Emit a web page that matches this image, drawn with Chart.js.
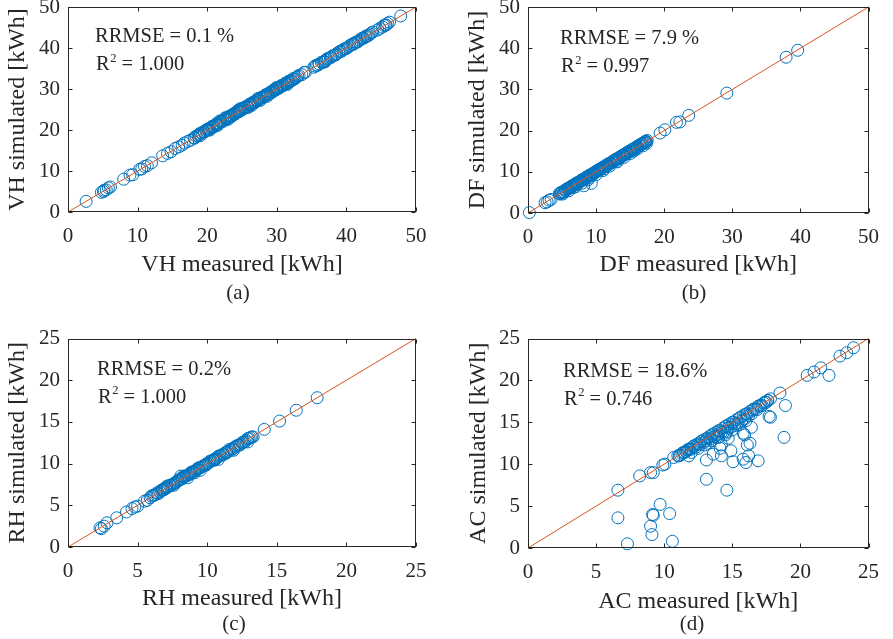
<!DOCTYPE html>
<html><head><meta charset="utf-8">
<script src="https://cdn.jsdelivr.net/npm/chart.js@4.4.1/dist/chart.umd.min.js"></script>
<style>
html,body{margin:0;padding:0;background:#fff;width:893px;height:639px;overflow:hidden;position:relative}
canvas{position:absolute}
</style></head><body>
<canvas id="ca"></canvas><canvas id="cb"></canvas><canvas id="cc"></canvas><canvas id="cd"></canvas>
<script>
const FONT = '"Liberation Serif", "Times New Roman", Times, serif';

// ---------- (a) VH ----------
const vhMeasured = [
 2.6, 4.8, 5.1, 5.2, 5.5, 5.8, 6.1, 8.0, 8.9, 9.3,
 10.3, 10.6, 11.0, 11.4, 12.0, 13.6, 14.3, 14.8, 15.4, 15.9,
 16.4, 16.7, 17.2, 17.6, 18.1, 18.4, 18.7, 18.9, 19.3, 19.5,
 19.8, 20.1, 20.3, 20.6, 20.9, 21.2, 21.4, 21.7, 22.0, 22.2,
 22.5, 22.8, 23.1, 23.3, 23.6, 23.9, 24.1, 24.4, 24.7, 25.0,
 25.2, 25.5, 25.8, 26.1, 26.3, 26.6, 26.9, 27.2, 27.4, 27.7,
 28.0, 28.3, 28.5, 28.8, 29.1, 29.4, 29.6, 29.9, 30.2, 30.5,
 30.7, 31.0, 31.3, 31.6, 31.8, 32.1, 32.4, 32.8, 33.2, 33.9,
 34.1, 35.3, 35.7, 36.1, 36.6, 37.0, 37.4, 37.8, 38.3, 38.6,
 39.1, 39.5, 39.9, 40.3, 40.8, 41.1, 41.5, 41.9, 42.3, 42.7,
 43.0, 43.4, 43.8, 44.8, 45.2, 45.6, 45.9, 47.8, 19.0, 20.4,
 21.8, 23.0, 24.5, 25.9, 27.3, 28.6, 30.0, 31.5, 22.6, 26.4
];
const vhSimulated = [
 2.6, 4.8, 5.0, 5.3, 5.4, 5.9, 6.1, 8.0, 9.0, 9.1,
 10.4, 10.5, 11.1, 11.3, 12.0, 13.7, 14.3, 14.7, 15.5, 15.9,
 16.3, 16.8, 17.2, 17.5, 18.1, 18.5, 18.6, 19.0, 19.2, 19.6,
 19.8, 20.1, 20.4, 20.6, 20.8, 21.2, 21.5, 21.7, 22.0, 22.3,
 22.5, 22.7, 23.1, 23.4, 23.6, 23.8, 24.2, 24.4, 24.6, 25.0,
 25.3, 25.5, 25.7, 26.1, 26.4, 26.6, 26.8, 27.2, 27.5, 27.7,
 27.9, 28.3, 28.6, 28.8, 29.0, 29.4, 29.7, 29.9, 30.1, 30.5,
 30.8, 31.0, 31.2, 31.6, 31.9, 32.1, 32.3, 32.8, 33.3, 34.0,
 34.1, 35.3, 35.8, 36.1, 36.5, 37.0, 37.5, 37.8, 38.2, 38.6,
 39.2, 39.5, 39.8, 40.3, 40.9, 41.1, 41.4, 41.9, 42.4, 42.7,
 42.9, 43.4, 43.9, 44.8, 45.1, 45.6, 46.0, 47.8, 18.6, 20.0,
 22.2, 22.6, 24.9, 25.5, 27.7, 28.2, 30.3, 31.1, 23.0, 26.0
];
const vhMeasured2 = [
 18.2, 18.8, 19.1, 19.6, 19.9, 20.2, 20.7, 21.0, 21.3, 21.6,
 21.9, 22.3, 22.7, 23.0, 23.2, 23.5, 23.8, 24.0, 24.3, 24.6,
 24.9, 25.1, 25.4, 25.7, 26.0, 26.2, 26.5, 26.8, 27.1, 27.5,
 27.8, 28.2, 28.4, 28.7, 29.0, 29.3, 29.5, 29.8, 30.1, 30.4,
 30.6, 30.9, 31.2, 31.5, 31.7, 32.0, 32.3, 32.6, 33.0, 35.5,
 35.9, 36.4, 36.8, 37.2, 37.7, 38.0, 38.5, 38.9, 39.3, 39.7,
 40.1, 40.5, 41.0, 41.3, 41.7, 42.1, 42.5, 42.8, 43.2, 43.6,
 44.5, 45.4, 45.7, 46.2, 21.5, 24.8, 27.6, 29.9, 33.6, 36.9
];
const vhSimulated2 = [
 18.0, 18.9, 19.3, 19.5, 20.1, 20.0, 20.9, 20.8, 21.5, 21.5,
 22.1, 22.1, 22.9, 22.9, 23.4, 23.3, 24.0, 23.9, 24.5, 24.5,
 25.1, 25.0, 25.6, 25.6, 26.2, 26.1, 26.7, 26.7, 27.3, 27.4,
 28.0, 28.1, 28.6, 28.6, 29.2, 29.2, 29.7, 29.7, 30.3, 30.3,
 30.8, 30.8, 31.4, 31.4, 31.9, 31.9, 32.5, 32.5, 33.1, 35.6,
 35.8, 36.5, 36.7, 37.3, 37.6, 38.1, 38.4, 39.0, 39.2, 39.8,
 40.0, 40.6, 40.9, 41.4, 41.6, 42.2, 42.4, 42.9, 43.1, 43.7,
 44.4, 45.5, 45.6, 46.3, 21.1, 25.2, 27.2, 30.3, 33.5, 36.6
];

// ---------- (b) DF ----------
const dfMeasured = [
 0.2, 2.5, 2.8, 3.1, 3.4, 4.6, 4.8, 5.0, 5.3, 5.5,
 5.7, 5.9, 6.2, 6.4, 6.6, 6.9, 7.1, 7.3, 7.6, 7.8,
 8.0, 8.3, 8.5, 8.7, 9.0, 9.2, 9.4, 9.7, 9.9, 10.2,
 10.4, 10.6, 10.9, 11.1, 11.4, 11.6, 11.8, 12.1, 12.3, 12.6,
 12.8, 13.0, 13.3, 13.5, 13.8, 14.0, 14.2, 14.5, 14.7, 15.0,
 15.2, 15.4, 15.7, 15.9, 16.1, 16.4, 16.6, 16.8, 17.1, 17.3,
 17.5, 8.2, 9.3, 5.1, 6.0, 7.0, 7.9, 8.8, 10.0, 11.0,
 12.0, 13.1, 14.1, 15.0, 16.0, 16.9, 17.4, 19.4, 20.1, 21.8,
 22.3, 23.6, 29.2, 37.9, 39.6
];
const dfSimulated = [
 0.1, 2.5, 2.7, 3.1, 3.3, 4.7, 4.9, 5.1, 5.2, 5.6,
 5.8, 6.0, 6.1, 6.5, 6.7, 6.8, 7.2, 7.4, 7.5, 7.9,
 8.1, 8.2, 8.6, 8.8, 9.1, 9.1, 9.5, 9.6, 10.0, 10.3,
 10.5, 10.5, 11.0, 11.2, 11.3, 11.7, 11.9, 12.0, 12.4, 12.7,
 12.9, 13.1, 13.2, 13.6, 13.9, 14.0, 14.3, 14.6, 14.8, 15.1,
 15.3, 15.5, 15.6, 16.0, 16.2, 16.5, 16.7, 16.9, 17.2, 17.4,
 17.6, 6.6, 7.2, 4.6, 5.4, 6.4, 7.2, 8.0, 9.3, 10.3,
 11.4, 12.4, 13.5, 14.4, 15.5, 16.3, 16.9, 19.4, 20.2, 22.0,
 22.1, 23.7, 29.1, 37.8, 39.5
];
const dfMeasured2 = [
 4.7, 4.9, 5.2, 5.4, 5.6, 5.8, 6.1, 6.3, 6.5, 6.8,
 7.0, 7.2, 7.4, 7.7, 7.9, 8.1, 8.4, 8.6, 8.9, 9.1,
 9.3, 9.6, 9.8, 10.1, 10.3, 10.5, 10.8, 11.0, 11.3, 11.5,
 11.7, 12.0, 12.2, 12.5, 12.7, 12.9, 13.2, 13.4, 13.6, 13.9,
 14.1, 14.4, 14.6, 14.9, 15.1, 15.3, 15.6, 15.8, 16.0, 16.3,
 16.5, 16.7, 17.0, 17.2, 17.4, 6.7, 9.0, 11.2, 13.0, 15.5
];
const dfSimulated2 = [
 4.6, 5.0, 5.0, 5.5, 5.5, 5.9, 6.0, 6.4, 6.4, 6.9,
 6.9, 7.3, 7.3, 7.8, 7.8, 8.2, 8.3, 8.7, 8.8, 9.2,
 9.2, 9.7, 9.7, 10.2, 10.2, 10.6, 10.7, 11.1, 11.2, 11.6,
 11.6, 12.1, 12.1, 12.6, 12.6, 13.0, 13.1, 13.5, 13.5, 14.0,
 14.0, 14.5, 14.5, 15.0, 15.0, 15.4, 15.5, 15.9, 15.9, 16.4,
 16.4, 16.8, 16.9, 17.3, 17.3, 6.2, 8.5, 10.7, 12.5, 15.0
];

// ---------- (c) RH ----------
const rhMeasured = [
 2.3, 2.4, 2.6, 2.8, 3.5, 4.2, 4.6, 4.8, 5.0, 5.5,
 5.7, 5.9, 6.1, 6.3, 6.4, 6.6, 6.7, 6.9, 7.0, 7.2,
 7.3, 7.5, 7.6, 7.8, 7.9, 8.1, 8.2, 8.3, 8.5, 8.6,
 8.8, 8.9, 9.0, 9.2, 9.3, 9.5, 9.6, 9.8, 9.9, 10.1,
 10.2, 10.4, 10.5, 10.7, 10.8, 11.0, 11.1, 11.3, 11.5, 11.6,
 11.8, 12.0, 12.2, 12.4, 12.6, 12.8, 12.9, 13.1, 13.2, 14.1,
 15.2, 16.4, 17.9, 8.1, 8.3, 9.1, 7.1, 6.8, 10.6, 11.4
];
const rhSimulated = [
 2.3, 2.2, 2.5, 2.9, 3.5, 4.2, 4.6, 4.8, 4.9, 5.5,
 5.6, 5.9, 6.2, 6.3, 6.5, 6.6, 6.8, 6.9, 7.0, 7.2,
 7.4, 7.5, 7.6, 7.8, 8.0, 8.1, 8.2, 8.4, 8.5, 8.6,
 8.8, 9.0, 9.0, 9.2, 9.4, 9.5, 9.6, 9.8, 9.9, 10.1,
 10.3, 10.4, 10.5, 10.7, 10.9, 11.0, 11.1, 11.3, 11.5, 11.7,
 11.8, 12.0, 12.2, 12.3, 12.6, 12.8, 13.0, 13.1, 13.2, 14.1,
 15.1, 16.4, 17.9, 8.5, 8.5, 8.9, 7.3, 6.9, 10.5, 11.3
];
const rhMeasured2 = [
 6.0, 6.2, 6.5, 6.8, 7.0, 7.1, 7.4, 7.7, 7.9, 8.0,
 8.2, 8.4, 8.7, 8.8, 9.1, 9.3, 9.4, 9.7, 9.9, 10.0,
 10.3, 10.5, 10.6, 10.9, 11.2, 11.4, 11.7, 11.9, 12.1, 12.3,
 12.5, 12.7, 13.0, 13.3, 9.5, 10.8, 11.9, 8.6, 7.6, 12.9
];
const rhSimulated2 = [
 6.1, 6.2, 6.4, 6.8, 7.1, 7.1, 7.4, 7.7, 7.9, 8.1,
 8.2, 8.5, 8.7, 8.9, 9.1, 9.3, 9.5, 9.7, 9.8, 10.0,
 10.3, 10.4, 10.6, 10.9, 11.1, 11.4, 11.6, 11.8, 12.1, 12.2,
 12.5, 12.6, 13.0, 13.2, 9.2, 10.5, 11.6, 8.3, 7.4, 12.6
];

// ---------- (d) AC ----------
const acMeasured = [
 6.6, 6.6, 7.3, 8.2, 9.0, 9.2, 9.7, 9.15, 9.2, 9.0,
 9.1, 10.4, 10.6, 9.9, 10.05, 10.7, 11.8, 13.1, 13.1, 14.6,
 13.6, 14.1, 14.2, 14.9, 15.05, 15.8, 16.0, 16.2, 16.9, 16.1,
 16.3, 16.4, 15.8, 15.9, 14.5, 14.7, 14.2, 17.7, 17.8, 18.8,
 18.9, 18.5, 20.5, 21.0, 21.5, 22.1, 22.9, 23.4, 23.9, 17.8,
 17.6, 11.6
];
const acSimulated = [
 6.9, 3.6, 0.5, 8.6, 9.0, 9.0, 5.2, 4.0, 3.9, 2.6,
 1.6, 4.1, 0.8, 9.9, 10.0, 10.8, 11.0, 10.5, 8.2, 6.9,
 11.2, 11.9, 11.0, 11.6, 10.3, 10.6, 10.2, 11.0, 10.4, 12.3,
 12.5, 14.4, 13.7, 13.5, 13.5, 13.1, 12.3, 15.7, 15.6, 13.2,
 17.0, 18.5, 20.6, 21.0, 21.5, 20.6, 22.9, 23.3, 23.9, 17.8,
 17.6, 11.5
];
const acBandMeasured = [
 11.0, 11.2, 11.4, 11.6, 11.8, 12.0, 12.1, 12.3, 12.4, 12.6,
 12.7, 12.9, 13.0, 13.1, 13.3, 13.4, 13.5, 13.7, 13.8, 13.9,
 14.0, 14.2, 14.3, 14.4, 14.5, 14.7, 14.8, 14.9, 15.0, 15.2,
 15.3, 15.4, 15.5, 15.7, 15.8, 15.9, 16.0, 16.2, 16.3, 16.4,
 16.6, 16.8, 17.0, 17.2, 17.4, 12.5, 13.2, 13.9, 14.6, 15.3,
 11.1, 11.3, 11.5, 11.7, 11.9, 12.2, 12.5, 12.8, 13.2, 13.6,
 14.1, 14.6, 15.1, 15.6, 16.1, 16.5, 16.7, 16.9, 17.1, 17.3,
 17.5, 17.6, 13.0, 13.5, 14.0, 14.5, 15.0, 15.5, 16.0, 12.0
];
const acBandSimulated = [
 11.0, 11.1, 11.4, 11.5, 11.8, 11.8, 12.1, 12.0, 12.4, 12.3,
 12.7, 12.6, 13.0, 12.8, 13.3, 13.0, 13.5, 13.3, 13.8, 13.5,
 14.0, 13.8, 14.3, 13.9, 14.5, 14.3, 14.8, 14.4, 15.0, 14.8,
 15.3, 14.9, 15.5, 15.2, 15.8, 15.4, 16.0, 15.8, 16.3, 16.0,
 16.6, 16.5, 17.0, 17.0, 17.4, 11.9, 12.5, 13.3, 13.9, 14.6,
 11.0, 11.3, 11.4, 11.7, 11.8, 12.2, 12.4, 12.8, 13.1, 13.6,
 14.0, 14.6, 15.0, 15.6, 16.0, 16.5, 16.6, 16.9, 17.0, 17.3,
 17.4, 17.6, 12.3, 12.8, 13.2, 13.7, 14.1, 14.7, 15.2, 11.4
];

// 1:1 reference lines
const diag50 = [0, 50];
const diag25 = [0, 25];

function pts(xs, ys) { return xs.map((x, i) => ({ x: x, y: ys[i] })); }

const decor = {
  id: 'panelDecor',
  afterDraw(chart, args, o) {
    const { ctx, chartArea: a, scales } = chart;
    ctx.save();
    ctx.strokeStyle = '#262626';
    ctx.lineWidth = 1;
    const L = Math.round(a.left) + 0.5, T = Math.round(a.top) + 0.5;
    const R = Math.round(a.right) - 0.5, B = Math.round(a.bottom) - 0.5;
    ctx.strokeRect(L, T, R - L, B - T);
    const tl = 4;
    ctx.beginPath();
    scales.x.ticks.forEach(t => {
      const px = Math.round(scales.x.getPixelForValue(t.value)) + 0.5;
      ctx.moveTo(px, B); ctx.lineTo(px, B - tl);
      ctx.moveTo(px, T); ctx.lineTo(px, T + tl);
    });
    scales.y.ticks.forEach(t => {
      const py = Math.round(scales.y.getPixelForValue(t.value)) + 0.5;
      ctx.moveTo(L, py); ctx.lineTo(L + tl, py);
      ctx.moveTo(R, py); ctx.lineTo(R - tl, py);
    });
    ctx.stroke();

    ctx.fillStyle = '#262626';
    ctx.textAlign = 'left';
    ctx.textBaseline = 'alphabetic';
    const big = '20.5px ' + FONT, small = '12.5px ' + FONT;
    ctx.font = big;
    ctx.fillText(o.rrmse, a.left + o.dx, a.top + o.y1);
    let x = a.left + o.dx + 1;
    const y2 = a.top + o.y2;
    ctx.fillText('R', x, y2);
    x += ctx.measureText('R').width + 0.5;
    ctx.font = small;
    ctx.fillText('2', x, y2 - 8.5);
    x += ctx.measureText('2').width;
    ctx.font = big;
    ctx.fillText(' = ' + o.r2, x, y2);

    ctx.textAlign = 'center';
    ctx.textBaseline = 'middle';
    ctx.font = '21px ' + FONT;
    ctx.fillText(o.caption, o.capX, o.capY);
    ctx.restore();
  }
};

function makePanel(id, g, xs, ys, diag, max, step, xTitle, yTitle, txt) {
  const cv = document.getElementById(id);
  cv.width = g.w; cv.height = g.h;
  cv.style.left = g.left + 'px'; cv.style.top = g.top + 'px';
  cv.style.width = g.w + 'px'; cv.style.height = g.h + 'px';
  const tickFs = 21, titleFs = 24;
  const padTop = g.pt - g.top;
  const padRight = g.left + g.w - g.pr;
  const yW = g.pl - g.left;
  const xH = g.top + g.h - g.pb;
  const xTitlePadB = (g.top + g.h) - g.xTitleY - titleFs / 2;
  const yTitlePadT = g.yTitleX - g.left - titleFs / 2;
  new Chart(cv, {
    type: 'scatter',
    data: {
      datasets: [
        { data: pts(diag, diag), showLine: true, borderColor: '#D95319', borderWidth: 1,
          pointRadius: 0, order: 0, clip: false },
        { data: pts(xs, ys), showLine: false, pointStyle: 'circle', pointRadius: 6,
          pointBorderColor: '#0072BD', pointBackgroundColor: 'rgba(0,0,0,0)', pointBorderWidth: 1,
          borderColor: '#0072BD', backgroundColor: 'rgba(0,0,0,0)', order: 1, clip: false }
      ]
    },
    options: {
      responsive: false, animation: false, devicePixelRatio: 1,
      events: [],
      layout: { padding: { left: 0, top: padTop, right: padRight, bottom: 0 } },
      plugins: {
        legend: { display: false }, tooltip: { enabled: false },
        panelDecor: Object.assign({}, txt, { capX: txt.capX - g.left, capY: txt.capY - g.top })
      },
      scales: {
        x: {
          type: 'linear', min: 0, max: max,
          ticks: { stepSize: step, color: '#262626', font: { family: FONT, size: tickFs, lineHeight: 1 },
                   padding: 14, maxRotation: 0, autoSkip: false },
          grid: { display: false, drawTicks: false }, border: { display: false },
          title: { display: true, text: xTitle, color: '#262626',
                   font: { family: FONT, size: titleFs, lineHeight: 1 },
                   padding: { top: 0, bottom: xTitlePadB } },
          afterFit(s) { s.height = xH; }
        },
        y: {
          type: 'linear', min: 0, max: max,
          ticks: { stepSize: step, color: '#262626', font: { family: FONT, size: tickFs, lineHeight: 1 },
                   padding: 8, autoSkip: false },
          grid: { display: false, drawTicks: false }, border: { display: false },
          title: { display: true, text: yTitle, color: '#262626',
                   font: { family: FONT, size: titleFs, lineHeight: 1 },
                   padding: { top: yTitlePadT, bottom: 0 } },
          afterFit(s) { s.width = yW; }
        }
      }
    },
    plugins: [decor]
  });
}

makePanel('ca', { left: 0, top: -20, w: 446, h: 340, pl: 68, pt: 7, pr: 416, pb: 212, xTitleY: 265, yTitleX: 17.5 },
  vhMeasured.concat(vhMeasured2), vhSimulated.concat(vhSimulated2), diag50, 50, 10,
  'VH measured [kWh]', 'VH simulated [kWh]',
  { rrmse: 'RRMSE = 0.1 %', r2: '1.000', dx: 27, y1: 35, y2: 63, caption: '(a)', capX: 238, capY: 293 });

makePanel('cb', { left: 446, top: -20, w: 447, h: 340, pl: 528, pt: 7, pr: 877, pb: 213, xTitleY: 265, yTitleX: 478 },
  dfMeasured.concat(dfMeasured2), dfSimulated.concat(dfSimulated2), diag50, 50, 10,
  'DF measured [kWh]', 'DF simulated [kWh]',
  { rrmse: 'RRMSE = 7.9 %', r2: '0.997', dx: 32, y1: 37, y2: 65, caption: '(b)', capX: 694, capY: 293 });

makePanel('cc', { left: 0, top: 320, w: 446, h: 319, pl: 68, pt: 338, pr: 416, pb: 547, xTitleY: 599, yTitleX: 17.5 },
  rhMeasured.concat(rhMeasured2), rhSimulated.concat(rhSimulated2), diag25, 25, 5,
  'RH measured [kWh]', 'RH simulated [kWh]',
  { rrmse: 'RRMSE = 0.2%', r2: '1.000', dx: 29, y1: 36, y2: 64, caption: '(c)', capX: 234, capY: 624 });

makePanel('cd', { left: 446, top: 320, w: 447, h: 319, pl: 528, pt: 336, pr: 877, pb: 548, xTitleY: 602, yTitleX: 478.3 },
  acMeasured.concat(acBandMeasured), acSimulated.concat(acBandSimulated), diag25, 25, 5,
  'AC measured [kWh]', 'AC simulated [kWh]',
  { rrmse: 'RRMSE = 18.6%', r2: '0.746', dx: 35, y1: 38, y2: 66, caption: '(d)', capX: 692, capY: 624 });
</script>
</body></html>
